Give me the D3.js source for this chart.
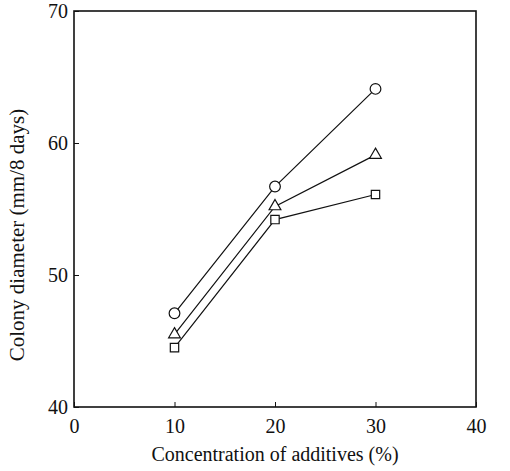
<!DOCTYPE html>
<html>
<head>
<meta charset="utf-8">
<script src="https://cdn.jsdelivr.net/npm/d3@7"></script>
<style>
  body { margin: 0; background: #fff; }
</style>
</head>
<body>
<div id="chart"></div>
<script>
// data
const concentration = [10, 20, 30];
const circleSeries = [47.1, 56.7, 64.1];
const triangleSeries = [45.5, 55.2, 59.1];
const squareSeries = [44.5, 54.2, 56.1];
const xTicks = [0, 10, 20, 30, 40];
const yTicks = [40, 50, 60, 70];

const font = "'Liberation Serif', serif";

const margin = {top: 11, right: 34, bottom: 64, left: 74},
  width = 510 - margin.left - margin.right,
  height = 471 - margin.top - margin.bottom;

const svg = d3.select("#chart")
  .append("svg")
  .attr("width", 510)
  .attr("height", 471)
  .append("g")
  .attr("transform", `translate(${margin.left}, ${margin.top})`);

const x = d3.scaleLinear().domain([0, 40]).range([0, width]);
const y = d3.scaleLinear().domain([40, 70]).range([height, 0]);

// frame
svg.append("rect")
  .attr("width", width)
  .attr("height", height)
  .attr("fill", "none")
  .attr("stroke", "#111")
  .attr("stroke-width", 1.6);

// bottom axis, ticks pointing inward
const xAxis = svg.append("g")
  .attr("transform", `translate(0, ${height})`)
  .call(d3.axisBottom(x).tickValues(xTicks).tickSizeInner(-5).tickSizeOuter(0).tickPadding(12));
xAxis.attr("font-family", null);
xAxis.select(".domain").remove();
xAxis.selectAll("text").style("font-family", font).style("font-size", "20px").attr("fill", "#111");
xAxis.selectAll("line").attr("stroke", "#111");

// left axis
const yAxis = svg.append("g")
  .call(d3.axisLeft(y).tickValues(yTicks).tickSizeInner(-5).tickSizeOuter(0).tickPadding(6));
yAxis.attr("font-family", null);
yAxis.select(".domain").remove();
yAxis.selectAll("text").style("font-family", font).style("font-size", "20px").attr("fill", "#111");
yAxis.selectAll("line").attr("stroke", "#111");

// axis titles
svg.append("text")
  .attr("x", width / 2)
  .attr("y", height + 54)
  .attr("text-anchor", "middle")
  .style("font-family", font)
  .style("font-size", "20px")
  .attr("fill", "#111")
  .text("Concentration of additives (%)");

svg.append("text")
  .attr("transform", "rotate(-90)")
  .attr("x", -height / 2 - 26)
  .attr("y", -50)
  .attr("text-anchor", "middle")
  .style("font-family", font)
  .style("font-size", "21px")
  .attr("fill", "#111")
  .text("Colony diameter (mm/8 days)");

const series = [
  {values: circleSeries, symbol: d3.symbolCircle, size: 90},
  {values: triangleSeries, symbol: d3.symbolTriangle, size: 60},
  {values: squareSeries, symbol: d3.symbolSquare, size: 70}
];

const line = d3.line()
  .x((d, i) => x(concentration[i]))
  .y(d => y(d));

series.forEach(s => {
  svg.append("path")
    .datum(s.values)
    .attr("d", line)
    .attr("fill", "none")
    .attr("stroke", "#111")
    .attr("stroke-width", 1.2);

  svg.append("g")
    .selectAll("path")
    .data(s.values)
    .join("path")
    .attr("transform", (d, i) => `translate(${x(concentration[i])}, ${y(d)})`)
    .attr("d", d3.symbol().type(s.symbol).size(s.size))
    .attr("fill", "#fff")
    .attr("stroke", "#111")
    .attr("stroke-width", 1.2);
});
</script>
</body>
</html>
